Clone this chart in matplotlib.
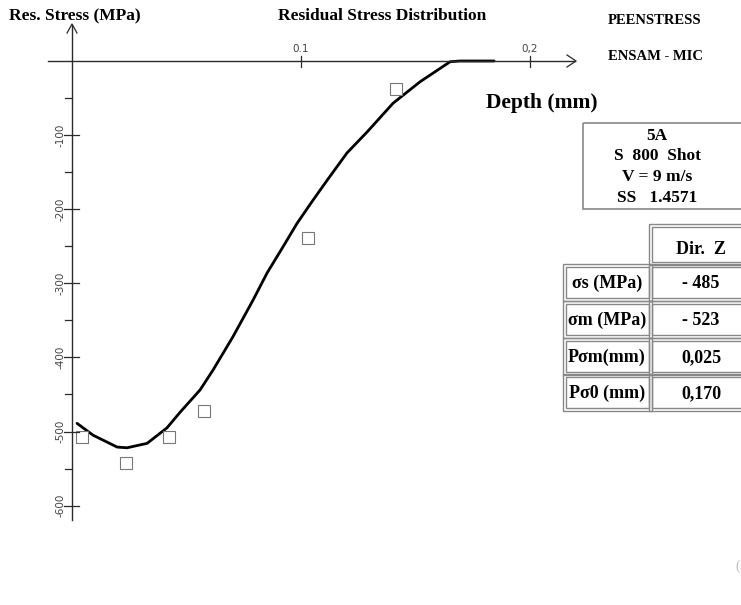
import matplotlib
matplotlib.use("Agg")
import matplotlib.pyplot as plt
from matplotlib.patches import Rectangle

# ---- data ----
curve_depth = [0.0022, 0.0092, 0.0197, 0.0240, 0.0328, 0.0415, 0.0472, 0.0559, 0.0616,
               0.0703, 0.0790, 0.0852, 0.0921, 0.0983, 0.1052, 0.1114, 0.1201, 0.1288,
               0.1402, 0.1520, 0.1651, 0.1694, 0.1843]
curve_stress = [-489, -505, -521, -522, -516, -495, -474, -444, -417,
                -372, -323, -286, -251, -219, -188, -161, -124, -96,
                -57, -28, -1, 0, 0]
meas_depth = [0.0044, 0.0236, 0.0424, 0.0576, 0.1031, 0.1415]
meas_stress = [-508, -543, -508, -472, -239, -38]
ytick_major = [-100, -200, -300, -400, -500, -600]
ytick_minor = [-50, -150, -250, -350, -450, -550]
xtick_vals = [0.1, 0.2]
xtick_labels = ["0.1", "0,2"]
info_lines = ["5A", "S  800  Shot", "V = 9 m/s", "SS   1.4571"]
table_header = "Dir.  Z"
row_labels = ["σs (MPa)", "σm (MPa)", "Pσm(mm)", "Pσ0 (mm)"]
row_values = ["- 485", "- 523", "0,025", "0,170"]

W, H = 741, 605
fig = plt.figure(figsize=(W / 100, H / 100), dpi=100)
x0px, xs = 72, 2290.0     # pixel of depth 0, px per mm
y0px, ys = 61, 0.741      # pixel of stress 0, px per MPa
ax = fig.add_axes([0, 0, 1, 1])
ax.set_xlim(-x0px / xs, (W - x0px) / xs)
ax.set_ylim(-(H - y0px) / ys, y0px / ys)
ax.axis("off")

ov = fig.add_axes([0, 0, 1, 1], zorder=5)
ov.set_xlim(0, W)
ov.set_ylim(H, 0)
ov.axis("off")
ov.patch.set_alpha(0)

def py(s):
    return y0px - s * ys

def px(d):
    return x0px + d * xs

axis_col = "#2a2a2a"
ov.plot([x0px, x0px], [520, 25], color=axis_col, lw=1.0)
ov.plot([x0px - 5, x0px, x0px + 5], [33, 24, 33], color=axis_col, lw=0.9)
ov.plot([48, 575], [y0px, y0px], color=axis_col, lw=1.0)
ov.plot([567, 576, 567], [y0px - 6, y0px, y0px + 6], color=axis_col, lw=0.9)

for v in ytick_major:
    ov.plot([x0px - 8, x0px + 7], [py(v), py(v)], color=axis_col, lw=0.9)
    ov.text(x0px - 11, py(v), str(v), rotation=90, ha="center", va="center",
            fontsize=7.5, color="#444444", family="DejaVu Sans")
for v in ytick_minor:
    ov.plot([x0px - 7, x0px], [py(v), py(v)], color=axis_col, lw=0.9)
for v, lab in zip(xtick_vals, xtick_labels):
    ov.plot([px(v), px(v)], [y0px - 5, y0px + 6], color=axis_col, lw=0.9)
    ov.text(px(v), y0px - 7, lab, ha="center", va="bottom", fontsize=7.5,
            color="#444444", family="DejaVu Sans")

ax.plot(curve_depth, curve_stress, color="black", lw=2.0, solid_capstyle="round",
        solid_joinstyle="round")
ax.plot(meas_depth, meas_stress, linestyle="none", marker="s", markersize=8,
        markerfacecolor="white", markeredgecolor="#777777", markeredgewidth=0.8)

serif = "Liberation Serif"
ov.text(9, 16, "Res. Stress (MPa)", fontsize=12.5, fontweight="bold", family=serif,
        ha="left", va="center")
ov.text(382, 16, "Residual Stress Distribution", fontsize=12.5, fontweight="bold",
        family=serif, ha="center", va="center")
ov.text(608, 20, "PEENSTRESS", fontsize=10.5, fontweight="bold", family=serif,
        ha="left", va="center")
ov.text(608, 56, "ENSAM - MIC", fontsize=10.5, fontweight="bold", family=serif,
        ha="left", va="center")
ov.text(486, 103, "Depth (mm)", fontsize=15.5, fontweight="bold", family=serif,
        ha="left", va="center")

gray = "#888888"
ov.add_patch(Rectangle((583, 123), 200, 86, fill=False, edgecolor=gray, lw=1.2))
for i, t in enumerate(info_lines):
    ov.text(657, 136 + i * 20.5, t, fontsize=12.5, fontweight="bold", family=serif,
            ha="center", va="center")

def dbl_rect(x, y, w, h):
    ov.add_patch(Rectangle((x, y), w, h, fill=False, edgecolor=gray, lw=1.0))
    ov.add_patch(Rectangle((x + 3, y + 3), w - 6, h - 6, fill=False, edgecolor=gray, lw=1.0))

dbl_rect(649, 224, 120, 41)
ov.text(701, 249, table_header, fontsize=13, fontweight="bold", family=serif,
        ha="center", va="center")
row_top = [264, 301, 338, 374]
rh = 36.5
for i, (lab, val) in enumerate(zip(row_labels, row_values)):
    y = row_top[i]
    dbl_rect(563, y, 89, rh)
    dbl_rect(649, y, 120, rh)
    ov.text(607, y + rh / 2 + 1, lab, fontsize=13, fontweight="bold", family=serif,
            ha="center", va="center")
    ov.text(701, y + rh / 2 + 1, val, fontsize=13, fontweight="bold", family=serif,
            ha="center", va="center")

ov.text(738, 566, "(", fontsize=10, color="#bbbbbb", family=serif, ha="center", va="center")

fig.savefig("out.png", dpi=100)
